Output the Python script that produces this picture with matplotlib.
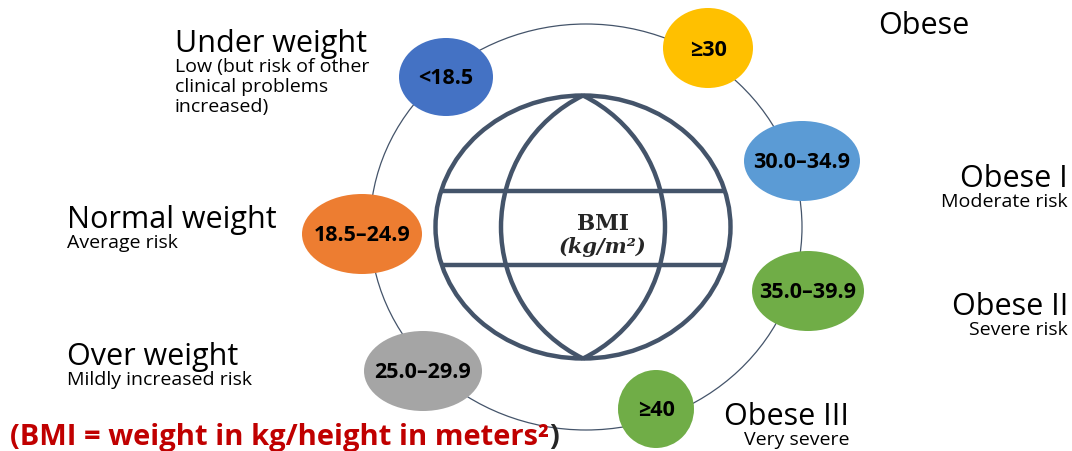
import numpy as np
import matplotlib
matplotlib.use("Agg")
import matplotlib.pyplot as plt
from matplotlib.patches import Ellipse, Arc

# BMI classes (ranges shown inside bubbles)
ranges = ["<18.5", "18.5–24.9", "25.0–29.9", "≥30", "30.0–34.9", "35.0–39.9", "≥40"]
colors = ["#4472C4", "#ED7D31", "#A5A5A5", "#FFC000", "#5B9BD5", "#70AD47", "#70AD47"]
titles = ["Under weight", "Normal weight", "Over weight", "Obese", "Obese I", "Obese II", "Obese III"]
risks = [["Low (but risk of other", "clinical problems", "increased)"], ["Average risk"],
         ["Mildly increased risk"], [], ["Moderate risk"], ["Severe risk"], ["Very severe"]]

# layout (pixel coords, y down)
bubble_xy = [(446, 78), (362, 235), (423, 372), (708, 49), (802, 162), (808, 292), (656, 410)]
bubble_wh = [(94, 78), (120, 80), (118, 80), (90, 80), (116, 80), (112, 80), (76, 78)]
# label anchor: (x, baseline of title, align)
label_pos = [(175, 52, "left"), (67, 228, "left"), (67, 365, "left"), (878, 34, "left"),
             (1068, 187, "right"), (1068, 315, "right"), (849, 425, "right")]

plt.rcParams['font.family'] = ['Open Sans', 'DejaVu Sans']

fig = plt.figure(figsize=(10.72, 4.52), dpi=100)
ax = fig.add_axes([0, 0, 1, 1])
ax.set_xlim(0, 1072)
ax.set_ylim(452, 0)
ax.axis('off')

globe_col = "#44546A"

# orbit
ax.add_patch(Ellipse((586, 228), 432, 406, fill=False, ec=globe_col, lw=0.9, zorder=1))

# globe
gx, gy, gw, gh = 583, 228, 295, 263
ax.add_patch(Ellipse((gx, gy), gw, gh, fill=False, ec=globe_col, lw=3.2, zorder=2))
h = gh / 2
s = 82
R = (h ** 2 + s ** 2) / (2 * s)
ang = np.degrees(np.arcsin(h / R))
ax.add_patch(Arc((gx + s - R, gy), 2 * R, 2 * R, theta1=-ang, theta2=ang, ec=globe_col, lw=3.2, zorder=2))
ax.add_patch(Arc((gx - s + R, gy), 2 * R, 2 * R, theta1=180 - ang, theta2=180 + ang, ec=globe_col, lw=3.2, zorder=2))
for yl in [192, 266]:
    dx = gw / 2 * np.sqrt(1 - ((yl - gy) / h) ** 2)
    ax.plot([gx - dx + 2, gx + dx - 2], [yl, yl], color=globe_col, lw=3.2, zorder=2)

serif = ['DejaVu Serif', 'Liberation Serif']
ax.text(603, 224, "BMI", ha='center', va='center', fontsize=15.5, fontweight='bold',
        family=serif, color="#262626", zorder=3)
ax.text(603, 247, "(kg/m²)", ha='center', va='center', fontsize=15, fontweight='bold',
        fontstyle='italic', family=serif, color="#262626", zorder=3)

# bubbles
for i, r in enumerate(ranges):
    (bx, by), (bw, bh) = bubble_xy[i], bubble_wh[i]
    ax.add_patch(Ellipse((bx, by), bw, bh, fc=colors[i], ec='none', zorder=4))
    ax.text(bx, by + 1, r, ha='center', va='center', fontsize=15.5, fontweight='bold',
            color='black', zorder=5)

# labels
for i, t in enumerate(titles):
    lx, ly, al = label_pos[i]
    ax.text(lx, ly, t, ha=al, va='baseline', fontsize=22, color='black')
    for k, line in enumerate(risks[i]):
        ax.text(lx, ly + 20 + 20 * k, line, ha=al, va='baseline', fontsize=14, color='black')

# formula
ft = ax.text(10, 445, "(BMI = weight in kg/height in meters²", ha='left', va='baseline',
             fontsize=21, fontweight='bold', color="#C00000")
ax.annotate(")", xy=(1, 0), xycoords=ft, ha='left', va='bottom', fontsize=21,
            fontweight='bold', color="#262626")

fig.savefig("out.png", dpi=100)
